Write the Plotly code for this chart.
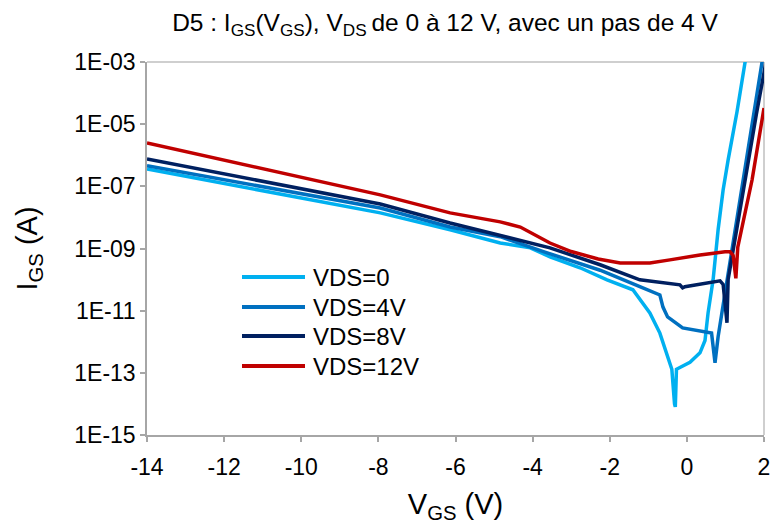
import plotly.graph_objects as go

# ---- data (V_GS in volts, I_GS in amperes) ----
vgs_0 = [-14.0, -7.95, -6.14, -4.84, -4.06, -3.55, -2.77, -2.07, -1.40, -0.96, -0.70, -0.52, -0.39,
         -0.32, -0.30, -0.27, -0.18, 0.08, 0.34, 0.47, 0.55, 0.68, 0.81, 0.94, 1.07, 1.30, 1.51, 1.60]
igs_0 = [3.6e-7, 1.4e-8, 4.0e-9, 1.5e-9, 1.05e-9, 5.4e-10, 2.4e-10, 9.8e-11, 4.7e-11, 8.5e-12, 1.9e-12, 4.4e-13, 1.3e-13,
         1.0e-14, 8e-15, 1.3e-13, 1.5e-13, 2.2e-13, 4.4e-13, 1.1e-12, 8.5e-12, 9.8e-11, 4.0e-9, 7.6e-8, 7.1e-7, 2.5e-5, 1.0e-3, 3e-3]

vgs_4 = [-14.0, -7.95, -6.14, -4.84, -3.70, -2.25, -1.22, -0.83, -0.70, -0.62, -0.50, -0.11,
         0.50, 0.64, 0.73, 0.81, 0.99, 1.24, 1.50, 1.75, 1.95, 2.05]
igs_4 = [4.6e-7, 2.0e-8, 4.9e-9, 2.4e-9, 7.8e-10, 2.0e-10, 5.9e-11, 3.7e-11, 3.2e-11, 1.3e-11, 6.3e-12, 2.8e-12,
         2.1e-12, 1.9e-12, 2.1e-13, 1.45e-12, 3.7e-11, 3.2e-9, 3.2e-7, 2.5e-5, 1.0e-3, 4e-3]

vgs_8 = [-14.0, -7.95, -6.14, -4.84, -3.55, -2.25, -1.22, -0.18, -0.11, -0.05, 0.34, 0.86,
         0.94, 1.04, 1.07, 1.30, 1.55, 1.80, 2.00, 2.05]
igs_8 = [7.6e-7, 2.7e-8, 6.6e-9, 2.7e-9, 1.05e-9, 3.0e-10, 9.8e-11, 6.8e-11, 5.4e-11, 5.9e-11, 7.3e-11, 9.1e-11,
         7.0e-11, 4.1e-12, 1.0e-10, 5.0e-9, 3.2e-7, 2.0e-5, 4.5e-4, 1e-3]

vgs_12 = [-14.0, -7.95, -6.14, -4.84, -4.32, -3.94, -3.55, -3.00, -2.30, -1.73, -0.96, -0.44, 0.34,
          0.99, 1.12, 1.20, 1.27, 1.32, 1.51, 1.69, 2.00]
igs_12 = [2.5e-6, 5.3e-8, 1.4e-8, 7.2e-9, 4.9e-9, 2.7e-9, 1.5e-9, 8.0e-10, 4.6e-10, 3.4e-10, 3.4e-10, 4.3e-10, 6.2e-10,
          7.8e-10, 7.8e-10, 6.0e-10, 1.1e-10, 1.1e-9, 1.4e-8, 1.6e-7, 3.3e-5]

series_names = ["VDS=0", "VDS=4V", "VDS=8V", "VDS=12V"]
series_colors = ["#00B0F0", "#0070C0", "#002060", "#C00000"]
series_x = [vgs_0, vgs_4, vgs_8, vgs_12]
series_y = [igs_0, igs_4, igs_8, igs_12]

x_ticks = [-14, -12, -10, -8, -6, -4, -2, 0, 2]
x_ticktext = ["-14", "-12", "-10", "-8", "-6", "-4", "-2", "0", "2"]
y_tickvals = [1e-3, 1e-5, 1e-7, 1e-9, 1e-11, 1e-13, 1e-15]
y_ticktext = ["1E-03", "1E-05", "1E-07", "1E-09", "1E-11", "1E-13", "1E-15"]

FONT = "Liberation Sans, Arial, sans-serif"
W, H = 774, 524
ML, MR, MT, MB = 147, 10, 62, 89
PW, PH = W - ML - MR, H - MT - MB


def px_x(p):
    return (p - ML) / PW


def px_y(p):
    return (H - MB - p) / PH


fig = go.Figure()
for name, col, xs, ys in zip(series_names, series_colors, series_x, series_y):
    fig.add_trace(go.Scatter(x=xs, y=ys, mode="lines", name=name,
                             line=dict(color=col, width=3.5), showlegend=False))

# legend drawn as keys + labels (long key lines as in the reference)
legend_rows = [277, 307, 336, 366]
for name, col, ry in zip(series_names, series_colors, legend_rows):
    fig.add_shape(type="line", xref="paper", yref="paper",
                  x0=px_x(242), x1=px_x(305), y0=px_y(ry), y1=px_y(ry),
                  line=dict(color=col, width=4))
    fig.add_annotation(text=name, xref="paper", yref="paper", x=px_x(311), y=px_y(ry),
                       xanchor="left", yanchor="middle", showarrow=False,
                       font=dict(family=FONT, size=24, color="black"))

fig.update_layout(
    width=W, height=H,
    margin=dict(l=ML, r=MR, t=MT, b=MB),
    paper_bgcolor="white", plot_bgcolor="white",
    font=dict(family=FONT, size=23, color="black"),
    title=dict(text="D5 : I<sub>GS</sub>(V<sub>GS</sub>), V<sub>DS </sub>de 0 à 12 V, avec un pas de 4 V",
               x=445 / W, xref="container", xanchor="center", y=1 - 22 / H, yref="container", yanchor="middle",
               font=dict(family=FONT, size=24.5, color="black")),
    showlegend=False,
)
fig.update_xaxes(range=[-14, 2], tickmode="array", tickvals=x_ticks, ticktext=x_ticktext, automargin=False,
                 showgrid=False, zeroline=False, showline=True, linecolor="#A6A6A6", linewidth=1.5,
                 ticks="outside", ticklen=5, tickcolor="#A6A6A6", tickwidth=1.5, ticklabelstandoff=6,
                 tickfont=dict(family=FONT, size=23, color="black"),
                 title=dict(text="V<sub>GS</sub> (V)", font=dict(family=FONT, size=29, color="black"), standoff=15))
fig.update_yaxes(type="log", range=[-15, -3], tickmode="array", tickvals=y_tickvals, ticktext=y_ticktext,
                 automargin=False,
                 showgrid=False, zeroline=False, showline=True, linecolor="#A6A6A6", linewidth=1.5,
                 ticks="outside", ticklen=5, tickcolor="#A6A6A6", tickwidth=1.5, ticklabelstandoff=0,
                 tickfont=dict(family=FONT, size=23, color="black"),
                 title=dict(text="I<sub>GS</sub> (A)", font=dict(family=FONT, size=29, color="black"), standoff=28))
# light plot-area frame on top and right
fig.add_shape(type="line", xref="paper", yref="paper", x0=0, x1=1, y0=1, y1=1,
              line=dict(color="#BFBFBF", width=1.5), layer="below")
fig.add_shape(type="line", xref="paper", yref="paper", x0=1, x1=1, y0=0, y1=1,
              line=dict(color="#BFBFBF", width=1.5), layer="below")

fig.write_html("out.html", config={"displayModeBar": False},
               post_script="document.body.style.margin='0';")
